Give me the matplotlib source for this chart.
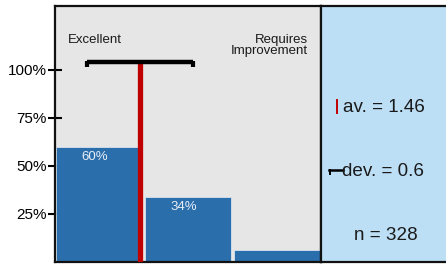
import matplotlib
matplotlib.use("Agg")
import matplotlib.pyplot as plt
from matplotlib.lines import Line2D

plt.rcParams['font.family'] = ['Liberation Sans', 'DejaVu Sans']

categories = [1, 2, 3]
shares = [0.60, 0.34, 0.06]
bar_labels = ["60%", "34%", ""]
mean_value = 1.46
std_value = 0.6
n_value = 328
ytick_vals = [0.25, 0.50, 0.75, 1.00]
ytick_labels = ["25%", "50%", "75%", "100%"]

W, H = 446, 264
fig = plt.figure(figsize=(W / 100, H / 100), dpi=100)

ax = fig.add_axes([55 / W, 2 / H, (321 - 55) / W, 256 / H])
ax.set_facecolor('#e6e6e6')
ax.bar(categories, shares, width=0.97, color='#2b6eac', edgecolor='#d8e2ee', linewidth=0.6, zorder=2)
for c, s, lab in zip(categories, shares, bar_labels):
    if lab:
        ax.text(c - 0.05, s - 0.053, lab, ha='center', va='center', color='#e8eef6', fontsize=9.5, zorder=4)

# mean line
ax.plot([mean_value, mean_value], [0, 1.04], color='#c00000', lw=3.8, solid_capstyle='butt', zorder=3)
# std bar
lo, hi = mean_value - std_value, mean_value + std_value
ax.plot([lo, hi], [1.04, 1.04], color='black', lw=3.2, solid_capstyle='butt', zorder=5)
ax.plot([lo, lo], [1.045, 1.015], color='black', lw=3, solid_capstyle='butt', zorder=5)
ax.plot([hi, hi], [1.045, 1.015], color='black', lw=3, solid_capstyle='butt', zorder=5)

ax.text(0.65, 1.156, "Excellent", ha='left', va='center', fontsize=9.5, color='#1a1a1a')
ax.text(3.35, 1.125, "Requires\nImprovement", ha='right', va='center', fontsize=9.5,
        color='#1a1a1a', linespacing=0.9)

ax.set_xlim(0.5, 3.5)
ax.set_ylim(0, 1.333)
ax.set_xticks([])
ax.set_yticks(ytick_vals)
ax.set_yticklabels(ytick_labels, fontsize=11)
ax.tick_params(axis='y', direction='inout', length=10, width=1.5, pad=1)
for sp in ax.spines.values():
    sp.set_linewidth(1.6)
    sp.set_color('#111111')

# right info panel
ax2 = fig.add_axes([321 / W, 2 / H, 127 / W, 256 / H])
ax2.set_facecolor('#bddff6')
ax2.set_xlim(0, 1)
ax2.set_ylim(0, 1)
ax2.set_xticks([])
ax2.set_yticks([])
for sp in ax2.spines.values():
    sp.set_linewidth(1.6)
    sp.set_color('#111111')

def fx(px):
    return (px - 321) / 125

def fy(py):
    return (262 - py) / 256

ax2.add_line(Line2D([fx(337), fx(337)], [fy(113), fy(100)], color='#c00000', lw=1.4))
ax2.text(fx(343), fy(107), f"av. = {mean_value}", ha='left', va='center', fontsize=13.6, color='#1a1a1a')
ax2.add_line(Line2D([fx(329), fx(343)], [fy(170), fy(170)], color='black', lw=1.8))
ax2.add_line(Line2D([fx(329.5), fx(329.5)], [fy(170), fy(174)], color='black', lw=1.4))
ax2.text(fx(342), fy(172), f"dev. = {std_value}", ha='left', va='center', fontsize=13.6, color='#1a1a1a')
ax2.text(fx(385), fy(235), f"n = {n_value}", ha='center', va='center', fontsize=13.6, color='#1a1a1a')

fig.savefig("out.png", dpi=100)
